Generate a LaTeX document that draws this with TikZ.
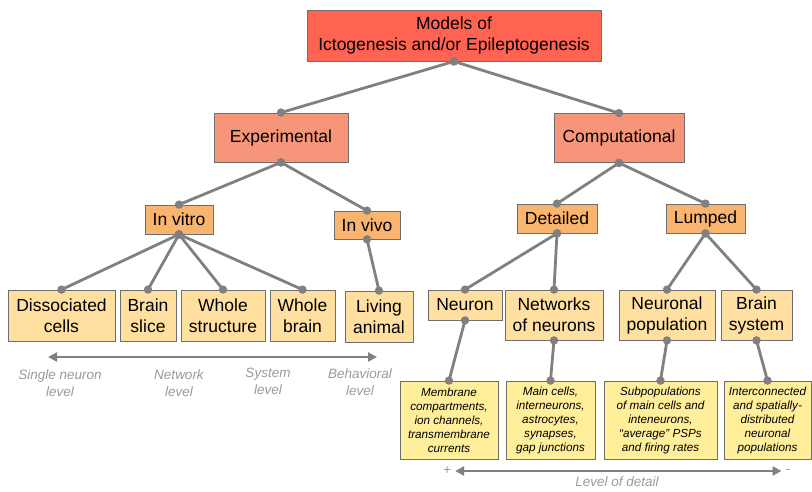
\documentclass[tikz,border=0pt]{standalone}
\usepackage{fontspec}
\setmainfont{Liberation Sans}
\usetikzlibrary{arrows.meta}

\definecolor{topred}{HTML}{FF6352}
\definecolor{salmon}{HTML}{F6957A}
\definecolor{orangebox}{HTML}{F9B46F}
\definecolor{tanbox}{HTML}{FFE0A0}
\definecolor{yellowbox}{HTML}{FFEE9A}
\definecolor{boxline}{HTML}{6E6E6E}
\definecolor{edgegray}{HTML}{808080}
\definecolor{labelgray}{HTML}{9A9A9A}

\begin{document}
\begin{tikzpicture}[x=1pt,y=-1pt]
            \tikzstyle{box}=[draw=boxline, line width=0.8pt, inner sep=0pt, align=center, text=black, font=\fontsize{17.5}{21}\selectfont]
            \tikzstyle{topbox}=[box, fill=topred, minimum height=51pt]
            \tikzstyle{kindbox}=[box, fill=salmon, minimum height=49pt]
            \tikzstyle{subbox}=[box, fill=orangebox, minimum height=29pt]
            \tikzstyle{leafbox}=[box, fill=tanbox, minimum height=51pt]
            \tikzstyle{detailbox}=[box, fill=yellowbox, minimum height=78pt, font=\fontsize{11.7}{14}\selectfont\itshape]
            \tikzstyle{edge}=[edgegray, line width=2.8pt]
            \tikzstyle{levellabel}=[inner sep=1pt, align=center, text=labelgray, font=\fontsize{13.5}{17}\selectfont\itshape]
            \tikzstyle{scalearrow}=[edgegray, line width=2.6pt, {Triangle[length=9pt,width=9pt]}-{Triangle[length=9pt,width=9pt]}]

            \useasboundingbox (0,0) rectangle (812,491);

            % tree
            \node[topbox, minimum width=294pt] (top) at (454,35.5) {Models of\\Ictogenesis and/or Epileptogenesis};
            \node[kindbox, minimum width=134pt] (exp) at (281,137.5) {Experimental};
            \node[kindbox, minimum width=130pt] (comp) at (619,138) {Computational};
            \node[subbox, minimum width=68pt] (vitro) at (179,219.5) {In vitro};
            \node[subbox, minimum width=66pt, minimum height=28pt] (vivo) at (367,225) {In vivo};
            \node[subbox, minimum width=80pt] (det) at (557,218.5) {Detailed};
            \node[subbox, minimum width=79pt] (lump) at (705.5,218.5) {Lumped};

            \node[leafbox, minimum width=107pt] (diss) at (61.5,315.5) {Dissociated\\cells};
            \node[leafbox, minimum width=56pt] (slice) at (148,315.5) {Brain\\slice};
            \node[leafbox, minimum width=84pt] (whstr) at (223,315.5) {Whole\\structure};
            \node[leafbox, minimum width=65pt] (whbr) at (302.5,315.5) {Whole\\brain};
            \node[leafbox, minimum width=68pt] (living) at (379,316.5) {Living\\animal};
            \node[leafbox, minimum width=74pt, minimum height=30pt] (neuron) at (465,305) {Neuron};
            \node[leafbox, minimum width=98pt, minimum height=50pt] (netw) at (554,315) {Networks\\of neurons};
            \node[leafbox, minimum width=96pt, minimum height=50pt] (pop) at (667,315) {Neuronal\\population};
            \node[leafbox, minimum width=71pt, minimum height=50pt] (bsys) at (756.5,315) {Brain\\system};

            \node[detailbox, minimum width=98pt] (dmem) at (449,420) {Membrane\\compartments,\\ion channels,\\transmembrane\\currents};
            \node[detailbox, minimum width=89pt] (dnet) at (550.5,420) {Main cells,\\interneurons,\\astrocytes,\\synapses,\\gap junctions};
            \node[detailbox, minimum width=113pt] (dpop) at (660.5,420) {Subpopulations\\of main cells and\\inteneurons,\\“average” PSPs\\and firing rates};
            \node[detailbox, minimum width=87pt] (dsys) at (767.5,420) {Interconnected\\and spatially-\\distributed\\neuronal\\populations};

            \foreach \a/\b in {top/exp, top/comp, exp/vitro, exp/vivo, comp/det, comp/lump,
                               vitro/diss, vitro/slice, vitro/whstr, vitro/whbr, vivo/living,
                               det/neuron, det/netw, lump/pop, lump/bsys,
                               neuron/dmem, netw/dnet, pop/dpop, bsys/dsys} {
              \draw[edge] (\a.south) -- (\b.north);
              \fill[edgegray] (\a.south) circle (4.2pt);
              \fill[edgegray] (\b.north) circle (4.2pt);
            }

            % experimental scale
            \coordinate (scaleL) at (48,357);
            \coordinate (scaleR) at (377,357);
            \draw[scalearrow] (scaleL) -- (scaleR);
            \node[levellabel] (single) at (60,383) {Single neuron\\level};
            \node[levellabel] (network) at (179,383) {Network\\level};
            \node[levellabel] (system) at (268,381) {System\\level};
            \node[levellabel] (behav) at (360,382) {Behavioral\\level};

            % computational scale
            \node[levellabel, inner sep=4pt] (plus) at (447,471) {+};
            \node[levellabel, inner sep=4pt] (minus) at (788,471) {-};
            \draw[scalearrow] (plus) -- (minus);
            \node[levellabel] (detail) at (617,482) {Level of detail};
          \end{tikzpicture}
\end{document}
